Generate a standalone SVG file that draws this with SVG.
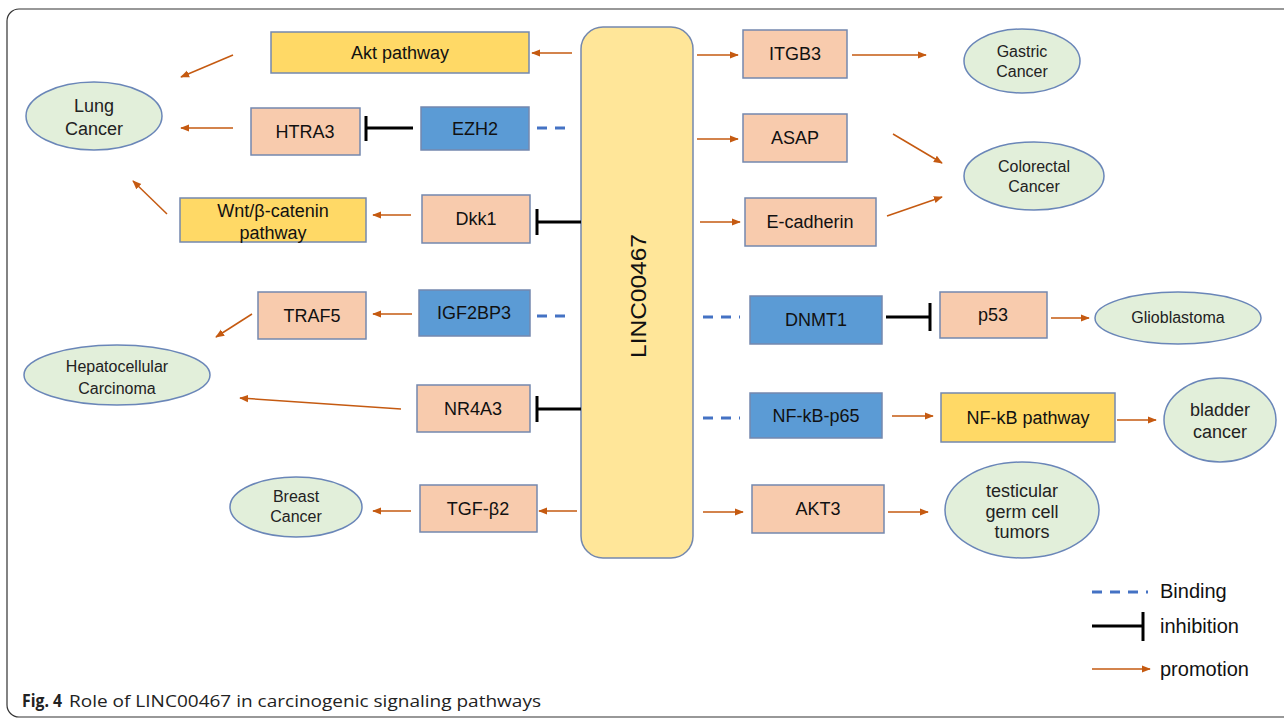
<svg xmlns="http://www.w3.org/2000/svg" width="1284" height="722" viewBox="0 0 1284 722">
<defs>
<marker id="ah" viewBox="0 0 10 10" refX="9" refY="5" markerWidth="9" markerHeight="9" markerUnits="userSpaceOnUse" orient="auto">
<path d="M0,1 L10,5 L0,9 Z" fill="#C55A11"/>
</marker>
</defs>
<style>
.frame{fill:#fff;stroke:#333;stroke-width:1.2}
.box{stroke:#7488AE;stroke-width:1.5}
.peach{fill:#F8CBAD}
.gold{fill:#FFD966}
.blue{fill:#5B9BD5}
.center{fill:#FFE699;stroke:#7488AE;stroke-width:1.5}
.ell{fill:#E2EFDA;stroke:#6A86B8;stroke-width:1.5}
.t{font-family:"Liberation Sans",Arial,sans-serif;font-size:18px;fill:#111;text-anchor:middle}
.te{font-family:"Liberation Sans",Arial,sans-serif;font-size:16px;fill:#222;text-anchor:middle}
.big{font-size:18px}
.lg{font-family:"Liberation Sans",Arial,sans-serif;font-size:20px;fill:#111}
.cap{font-family:"Open Sans","Liberation Sans",sans-serif;font-size:17px;fill:#222}
.pro{stroke:#C55A11;stroke-width:1.5;fill:none;marker-end:url(#ah)}
.inh{stroke:#000;stroke-width:3;fill:none}
.bind{stroke:#4472C4;stroke-width:3;stroke-dasharray:10,8;fill:none}
</style>
<rect class="frame" x="7" y="9" width="1300" height="708" rx="12"/>

<g id="LINC00467"><rect class="center" x="581" y="27" width="112" height="531" rx="22"/><text class="t" style="font-size:22px" transform="translate(646,296) rotate(-90)" textLength="124" lengthAdjust="spacingAndGlyphs">LINC00467</text></g>

<g id="akt-pathway"><rect class="box gold" x="271" y="32" width="258" height="41"/><text class="t" x="400" y="59">Akt pathway</text></g>
<g id="lung-cancer"><ellipse class="ell" cx="94" cy="116" rx="68" ry="34"/><text class="te big" x="94" y="112">Lung</text><text class="te big" x="94" y="135">Cancer</text></g>
<g id="HTRA3"><rect class="box peach" x="251" y="108" width="109" height="47"/><text class="t" x="305" y="138">HTRA3</text></g>
<g id="EZH2"><rect class="box blue" x="421" y="107" width="108" height="43"/><text class="t" x="475" y="135">EZH2</text></g>
<g id="wnt"><rect class="box gold" x="180" y="198" width="186" height="44"/><text class="t" x="273" y="217">Wnt/β-catenin</text><text class="t" x="273" y="239">pathway</text></g>
<g id="Dkk1"><rect class="box peach" x="422" y="195" width="108" height="48"/><text class="t" x="476" y="225">Dkk1</text></g>
<g id="TRAF5"><rect class="box peach" x="258" y="292" width="108" height="47"/><text class="t" x="312" y="322">TRAF5</text></g>
<g id="IGF2BP3"><rect class="box blue" x="419" y="290" width="111" height="46"/><text class="t" x="474" y="319">IGF2BP3</text></g>
<g id="hcc"><ellipse class="ell" cx="117" cy="375" rx="93" ry="30"/><text class="te" x="117" y="372">Hepatocellular</text><text class="te" x="117" y="394">Carcinoma</text></g>
<g id="NR4A3"><rect class="box peach" x="417" y="385" width="113" height="47"/><text class="t" x="473" y="415">NR4A3</text></g>
<g id="TGFb2"><rect class="box peach" x="420" y="485" width="117" height="47"/><text class="t" x="478" y="515">TGF-β2</text></g>
<g id="breast-cancer"><ellipse class="ell" cx="296" cy="507" rx="66" ry="30"/><text class="te" x="296" y="502">Breast</text><text class="te" x="296" y="522">Cancer</text></g>

<g id="ITGB3"><rect class="box peach" x="743" y="30" width="104" height="48"/><text class="t" x="795" y="60">ITGB3</text></g>
<g id="gastric-cancer"><ellipse class="ell" cx="1022" cy="61" rx="58" ry="32"/><text class="te" x="1022" y="57">Gastric</text><text class="te" x="1022" y="77">Cancer</text></g>
<g id="ASAP"><rect class="box peach" x="743" y="114" width="104" height="48"/><text class="t" x="795" y="144">ASAP</text></g>
<g id="E-cadherin"><rect class="box peach" x="745" y="198" width="131" height="48"/><text class="t" x="810" y="228">E-cadherin</text></g>
<g id="colorectal-cancer"><ellipse class="ell" cx="1034" cy="176" rx="70" ry="34"/><text class="te" x="1034" y="172">Colorectal</text><text class="te" x="1034" y="192">Cancer</text></g>
<g id="DNMT1"><rect class="box blue" x="750" y="296" width="132" height="48"/><text class="t" x="816" y="326">DNMT1</text></g>
<g id="p53"><rect class="box peach" x="940" y="292" width="107" height="46"/><text class="t" x="993" y="321">p53</text></g>
<g id="glioblastoma"><ellipse class="ell" cx="1178" cy="318" rx="83" ry="26"/><text class="te" x="1178" y="323">Glioblastoma</text></g>
<g id="NF-kB-p65"><rect class="box blue" x="750" y="393" width="132" height="45"/><text class="t" x="816" y="422">NF-kB-p65</text></g>
<g id="NF-kB-pathway"><rect class="box gold" x="941" y="393" width="174" height="49"/><text class="t" x="1028" y="424">NF-kB pathway</text></g>
<g id="bladder-cancer"><ellipse class="ell" cx="1220" cy="420" rx="56" ry="42"/><text class="te big" x="1220" y="416">bladder</text><text class="te big" x="1220" y="438">cancer</text></g>
<g id="AKT3"><rect class="box peach" x="752" y="485" width="132" height="48"/><text class="t" x="818" y="515">AKT3</text></g>
<g id="testicular"><ellipse class="ell" cx="1022" cy="510" rx="77" ry="48"/><text class="te big" x="1022" y="497">testicular</text><text class="te big" x="1022" y="518">germ cell</text><text class="te big" x="1022" y="538">tumors</text></g>

<g id="connectors">
<line class="pro" x1="572" y1="53" x2="532" y2="53"/>
<line class="pro" x1="233" y1="55" x2="181" y2="77"/>
<line class="inh" x1="413" y1="128" x2="366" y2="128"/>
<line class="inh" x1="366" y1="116" x2="366" y2="141"/>
<line class="bind" x1="537" y1="128" x2="572" y2="128"/>
<line class="pro" x1="233" y1="128" x2="181" y2="128"/>
<line class="inh" x1="581" y1="222" x2="537" y2="222"/>
<line class="inh" x1="537" y1="209" x2="537" y2="235"/>
<line class="pro" x1="411" y1="215" x2="373" y2="215"/>
<line class="pro" x1="167" y1="214" x2="133" y2="181"/>
<line class="pro" x1="412" y1="314" x2="373" y2="314"/>
<line class="bind" x1="537" y1="316" x2="572" y2="316"/>
<line class="pro" x1="252" y1="314" x2="216" y2="337"/>
<line class="inh" x1="581" y1="409" x2="537" y2="409"/>
<line class="inh" x1="537" y1="396" x2="537" y2="422"/>
<line class="pro" x1="401" y1="409" x2="240" y2="398"/>
<line class="pro" x1="577" y1="511" x2="539" y2="511"/>
<line class="pro" x1="411" y1="511" x2="373" y2="511"/>

<line class="pro" x1="697" y1="55" x2="738" y2="55"/>
<line class="pro" x1="852" y1="55" x2="926" y2="55"/>
<line class="pro" x1="697" y1="139" x2="738" y2="139"/>
<line class="pro" x1="893" y1="134" x2="942" y2="163"/>
<line class="pro" x1="700" y1="222" x2="740" y2="222"/>
<line class="pro" x1="887" y1="216" x2="942" y2="197"/>
<line class="bind" x1="703" y1="317" x2="740" y2="317"/>
<line class="inh" x1="886" y1="317" x2="930" y2="317"/>
<line class="inh" x1="930" y1="303" x2="930" y2="331"/>
<line class="pro" x1="1051" y1="318" x2="1089" y2="318"/>
<line class="bind" x1="703" y1="418" x2="740" y2="418"/>
<line class="pro" x1="892" y1="416" x2="933" y2="416"/>
<line class="pro" x1="1117" y1="420" x2="1156" y2="420"/>
<line class="pro" x1="703" y1="512" x2="743" y2="512"/>
<line class="pro" x1="888" y1="512" x2="928" y2="512"/>
</g>

<g id="legend">
<line class="bind" x1="1092" y1="592" x2="1148" y2="592"/>
<text class="lg" x="1160" y="598">Binding</text>
<line class="inh" x1="1092" y1="626" x2="1143" y2="626"/>
<line class="inh" x1="1143" y1="612" x2="1143" y2="641"/>
<text class="lg" x="1160" y="633">inhibition</text>
<line class="pro" x1="1092" y1="669" x2="1150" y2="669"/>
<text class="lg" x="1160" y="676">promotion</text>
</g>

<text class="cap" x="22" y="707" font-weight="bold" textLength="40" lengthAdjust="spacingAndGlyphs">Fig. 4</text>
<text class="cap" x="69" y="707" textLength="472" lengthAdjust="spacingAndGlyphs">Role of LINC00467 in carcinogenic signaling pathways</text>
</svg>
